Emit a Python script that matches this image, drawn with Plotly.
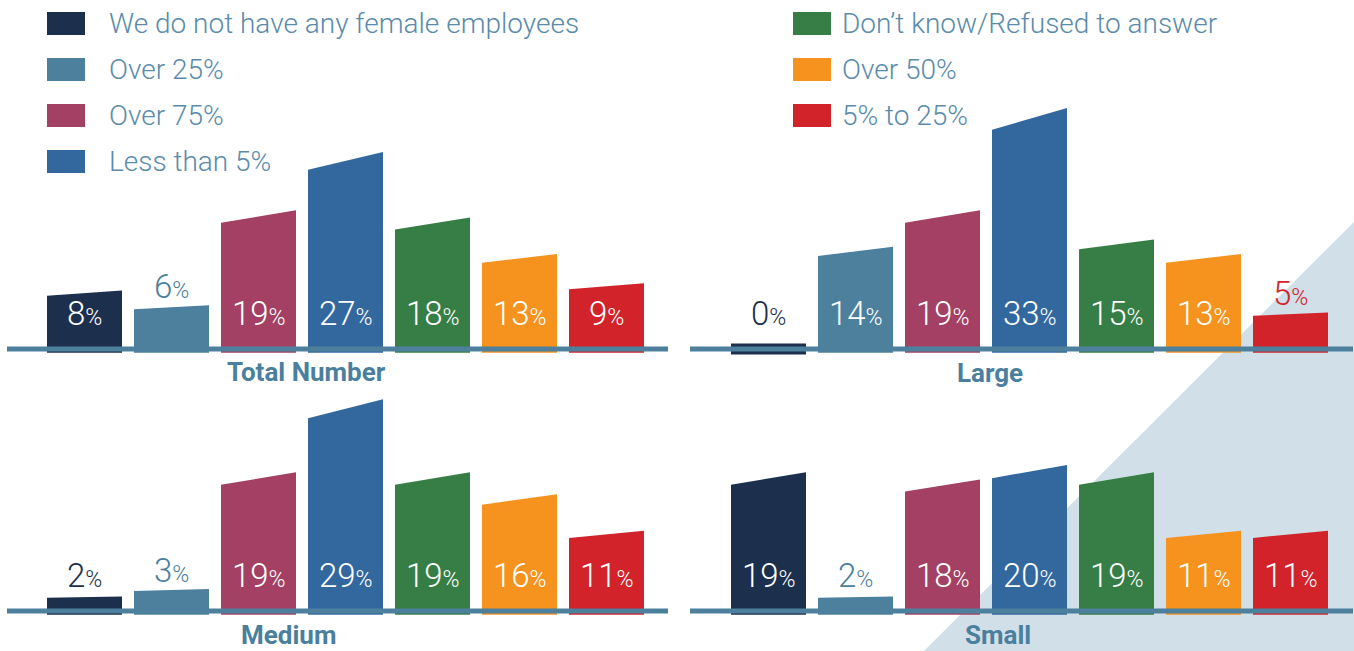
import plotly.graph_objects as go

# ---------------- data ----------------
categories = [
    "We do not have any female employees",
    "Over 25%",
    "Over 75%",
    "Less than 5%",
    "Don’t know/Refused to answer",
    "Over 50%",
    "5% to 25%",
]
total_number = [8, 6, 19, 27, 18, 13, 9]
large = [0, 14, 19, 33, 15, 13, 5]
medium = [2, 3, 19, 29, 19, 16, 11]
small = [19, 2, 18, 20, 19, 11, 11]
panel_titles = ["Total Number", "Large", "Medium", "Small"]

# ---------------- style ----------------
colors = ["#1c2f4d", "#4c809d", "#a44063", "#33689f", "#377e46", "#f6931e", "#d2232a"]
AXIS_COLOR = "#4c809d"
TEXT_COLOR = "#5a8bab"
TITLE_COLOR = "#4a7f9e"
TRI_COLOR = "#d1dfe8"
W, H = 1354, 651
PX_PER_PCT = 7.3
SPACING = 87.0
HALF = 0.431
SLANT = 0.91
LABEL_Y = 4.9

def px(x):
    return x / W

def py(y):
    return 1 - y / H

# panel geometry (screen pixels)
panels = [
    dict(vals=total_number, title=panel_titles[0], x0=7, x1=668, c0=84.5, base=349, top=80, bot=360, tx=306, ty=372),
    dict(vals=large, title=panel_titles[1], x0=690, x1=1353, c0=768.5, base=349, top=80, bot=360, tx=990, ty=373),
    dict(vals=medium, title=panel_titles[2], x0=7, x1=668, c0=84.5, base=611, top=380, bot=640, tx=288, ty=635),
    dict(vals=small, title=panel_titles[3], x0=690, x1=1353, c0=768.5, base=611, top=380, bot=640, tx=998, ty=635),
]

fig = go.Figure()
shapes = []
annotations = []

# background triangle
shapes.append(dict(type="path", xref="paper", yref="paper", layer="below",
                   path=f"M {px(1354)} {py(222)} L {px(924)} {py(651)} L {px(1354)} {py(651)} Z",
                   fillcolor=TRI_COLOR, line=dict(width=0)))

layout_axes = {}
for k, p in enumerate(panels):
    n = "" if k == 0 else str(k + 1)
    xa, ya = "x" + n, "y" + n
    xr = [(p["x0"] - p["c0"]) / SPACING, (p["x1"] - p["c0"]) / SPACING]
    yr = [-(p["bot"] - p["base"]) / PX_PER_PCT, (p["base"] - p["top"]) / PX_PER_PCT]
    layout_axes["xaxis" + n] = dict(domain=[px(p["x0"]), px(p["x1"])], range=xr, visible=False,
                                    fixedrange=True, anchor=ya)
    layout_axes["yaxis" + n] = dict(domain=[py(p["bot"]), py(p["top"])], range=yr, visible=False,
                                    fixedrange=True, anchor=xa)
    for i, v in enumerate(p["vals"]):
        if v <= 0:
            bot, tl, tr = -0.75, 0.75, 0.75
        else:
            bot, tr = -0.5, v
            tl = v * SLANT
        fig.add_trace(go.Scatter(
            x=[i - HALF, i - HALF, i + HALF, i + HALF, i - HALF],
            y=[bot, tl, tr, bot, bot],
            fill="toself", fillcolor=colors[i], mode="lines", line=dict(width=0),
            xaxis=xa, yaxis=ya, showlegend=False, hoverinfo="text",
            text=f"{categories[i]}: {v}%",
        ))
        inside = v >= 7
        ly = LABEL_Y if inside else max(LABEL_Y, v + 2.6)
        annotations.append(dict(
            x=i, y=ly, xref=xa, yref=ya, showarrow=False,
            text=f"{v}<span style='font-size:23px'>%</span>",
            font=dict(family="Roboto", size=33, weight=300,
                      color="#ffffff" if inside else colors[i]),
            xanchor="center", yanchor="middle",
        ))
    # baseline
    shapes.append(dict(type="line", xref=xa + " domain", yref=ya, x0=0, x1=1, y0=0, y1=0,
                       line=dict(color=AXIS_COLOR, width=5), layer="above"))
    # title
    annotations.append(dict(x=px(p["tx"]), y=py(p["ty"]), xref="paper", yref="paper",
                            text=f"<b>{p['title']}</b>", showarrow=False,
                            font=dict(family="Roboto", size=26, color=TITLE_COLOR),
                            xanchor="center", yanchor="middle"))

# custom legend
leg_tops = [12, 58, 104, 150]
for i, cat in enumerate(categories):
    if i < 4:
        sx, tx, top = 47, 107, leg_tops[i]
    else:
        sx, tx, top = 793, 840, leg_tops[i - 4]
    shapes.append(dict(type="rect", xref="paper", yref="paper",
                       x0=px(sx), x1=px(sx + 38), y0=py(top + 23), y1=py(top),
                       fillcolor=colors[i], line=dict(width=0)))
    annotations.append(dict(x=px(tx), y=py(top + 11.5), xref="paper", yref="paper",
                            text=cat, showarrow=False, xanchor="left", yanchor="middle",
                            font=dict(family="Roboto", size=28, weight=300, color=TEXT_COLOR)))

fig.update_layout(
    width=W, height=H,
    margin=dict(l=0, r=0, t=0, b=0),
    paper_bgcolor="#ffffff", plot_bgcolor="rgba(0,0,0,0)",
    shapes=shapes, annotations=annotations, showlegend=False,
    **layout_axes,
)

fig.write_html(
    "out.html",
    config={"displayModeBar": False},
    post_script="document.body.style.margin='0';document.body.style.overflow='hidden';",
)
